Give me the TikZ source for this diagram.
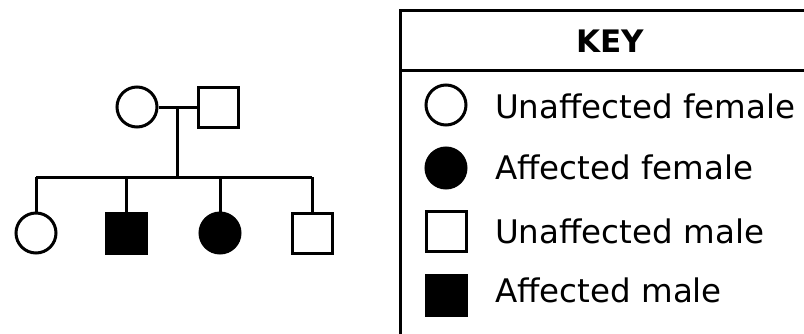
\documentclass[tikz,border=0pt]{standalone}
\usepackage{fontspec}
\setmainfont{DejaVu Sans}
\tikzset{
	person/.style = {draw=black, line width=3pt, inner sep=0pt, minimum size=40pt},
	female/.style = {person, circle},
	male/.style = {person, rectangle},
	affected/.style = {fill=black},
	keytext/.style = {anchor=base west, inner sep=0pt, font=\fontsize{32.5}{38}\selectfont},
	link/.style = {line width=3pt}
}

\begin{document}
\begin{tikzpicture}[x=1pt, y=-1pt]
		\clip (0,0) rectangle (804,333);
		\useasboundingbox (0,0) rectangle (804,333);
		% parents
		\node [female] (mother) at (137,107) {};
		\node [male] (father) at (218,107) {};
		\coordinate (mid) at (177,107);
		\coordinate (sib) at (177,177);
		% children
		\node [female] (girlA) at (36,233) {};
		\node [male, affected] (boyA) at (126,233) {};
		\node [female, affected] (girlB) at (220,233) {};
		\node [male] (boyB) at (312,233) {};
		\draw [link] (mother) -- (father);
		\draw [link] (mid) -- (sib);
		\draw [link] (girlA |- sib) -- (boyB |- sib);
		\foreach \kid in {girlA, boyA, girlB, boyB}
			\draw [link] (\kid |- sib) -- (\kid);
		% key
		\draw [link] (400,343) |- (814,10);
		\draw [link] (400,70) -- (814,70);
		\node [font=\fontsize{31}{36}\selectfont\bfseries] (keyhead) at (610,41) {KEY};
		\node [female] (keyF) at (446,105) {};
		\node [female, affected] (keyFA) at (446,168) {};
		\node [male] (keyM) at (446,231) {};
		\node [male, affected] (keyMA) at (446,295) {};
		\node [keytext] (txtF) at (495,118) {Unaffected female};
		\node [keytext] (txtFA) at (495,179) {Affected female};
		\node [keytext] (txtM) at (495,243) {Unaffected male};
		\node [keytext] (txtMA) at (495,302) {Affected male};
\end{tikzpicture}
\end{document}
